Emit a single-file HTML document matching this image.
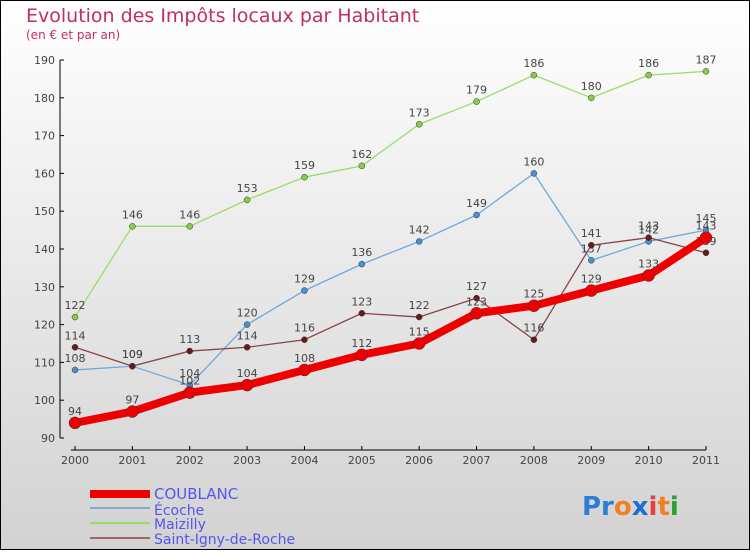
<!DOCTYPE html>
<html><head><meta charset="utf-8"><style>
body{margin:0}
#c{width:750px;height:550px;position:relative;font-family:"DejaVu Sans","Liberation Sans",sans-serif;}
</style></head><body>
<div id="c">
<svg id="s" width="750" height="550" xmlns="http://www.w3.org/2000/svg">
<defs><linearGradient id="bg" x1="0" y1="0" x2="0" y2="1"><stop offset="0" stop-color="#ffffff"/><stop offset="1" stop-color="#d2d2d2"/></linearGradient></defs>
<rect x="0.5" y="0.5" width="749" height="549" fill="url(#bg)" stroke="#000"/>
<text x="26" y="22" font-size="19" fill="#c0305a">Evolution des Impôts locaux par Habitant</text>
<text x="26" y="39" font-size="12" fill="#c0305a">(en € et par an)</text>
<g id="axes"></g><g id="series"></g>
<g>
<rect x="90" y="490" width="60" height="8" fill="#e00"/>
<text x="154" y="499" font-size="15" fill="#5555ee">COUBLANC</text>
<line x1="90" y1="508" x2="150" y2="508" stroke="#7aaed6" stroke-width="2"/>
<text x="154" y="515" font-size="14" fill="#5555ee">Écoche</text>
<line x1="90" y1="523" x2="150" y2="523" stroke="#99dd66" stroke-width="2"/>
<text x="154" y="529" font-size="14" fill="#5555ee">Maizilly</text>
<line x1="90" y1="538" x2="150" y2="538" stroke="#996666" stroke-width="2"/>
<text x="154" y="544" font-size="14" fill="#5555ee">Saint-Igny-de-Roche</text>
</g>
<g font-size="26" font-weight="bold">
<text x="582" y="515"><tspan fill="#2a7fd4">Pr</tspan><tspan fill="#f08020">o</tspan><tspan fill="#1a6fd0">x</tspan><tspan fill="#e04040">i</tspan><tspan fill="#f08020">t</tspan><tspan fill="#30a030">i</tspan></text>
</g>
</svg></div>
<script>
const years=["2000","2001","2002","2003","2004","2005","2006","2007","2008","2009","2010","2011"];
const yTicks=[90,100,110,120,130,140,150,160,170,180,190];
const coublanc=[94,97,102,104,108,112,115,123,125,129,133,143];
const ecoche=[108,109,104,120,129,136,142,149,160,137,142,145];
const maizilly=[122,146,146,153,159,162,173,179,186,180,186,187];
const saintIgny=[114,109,113,114,116,123,122,127,116,141,143,139];
const NS="http://www.w3.org/2000/svg";
function X(i){return 75+i*(706-75)/11;}
function Y(v){return 438-(v-90)*(438-60)/100;}
function mk(t,a,p){const e=document.createElementNS(NS,t);for(const k in a)e.setAttribute(k,a[k]);p.appendChild(e);return e;}
const ax=document.getElementById('axes');
const ya=mk('line',{x1:60,y1:60,x2:60,y2:438,stroke:'#000'},ax);


yTicks.forEach(v=>{const t=mk('text',{x:55,y:Y(v)+4,'font-size':11,fill:'#444','text-anchor':'end'},ax);t.textContent=v;


mk('line',{x1:60,y1:Y(v),x2:64,y2:Y(v),stroke:'#000'},ax);});
const xa=mk('line',{x1:71,y1:450,x2:706,y2:450,stroke:'#000'},ax);


years.forEach((y,i)=>{mk('line',{x1:X(i),y1:446,x2:X(i),y2:450,stroke:'#000'},ax);
const t=mk('text',{x:X(i),y:464,'font-size':11,fill:'#444','text-anchor':'middle'},ax);t.textContent=y;

});
const sg=document.getElementById('series');
function draw(d,name,col,w,r,dot){
const g=mk('g',{},sg);


mk('polyline',{points:d.map((v,i)=>X(i)+','+Y(v)).join(' '),fill:'none',stroke:col,'stroke-width':w,'stroke-linejoin':'round'},g);
d.forEach((v,i)=>{const c=mk('circle',{cx:X(i),cy:Y(v),r:r,fill:dot,stroke:'#333','stroke-width':0.5},g);


const t=mk('text',{x:X(i),y:Y(v)-8,'font-size':11,fill:'#444','text-anchor':'middle'},g);t.textContent=v;

});}
draw(maizilly,'maizilly','#99dd66',1.3,3,'#88cc44');
draw(ecoche,'ecoche','#6fa8dc',1.3,3,'#4a90d0');
draw(saintIgny,'saint-igny','#884444',1.3,3,'#661c1c');
draw(coublanc,'coublanc','#ee0000',8,6,'#ee0000');
</script>
</body></html>
